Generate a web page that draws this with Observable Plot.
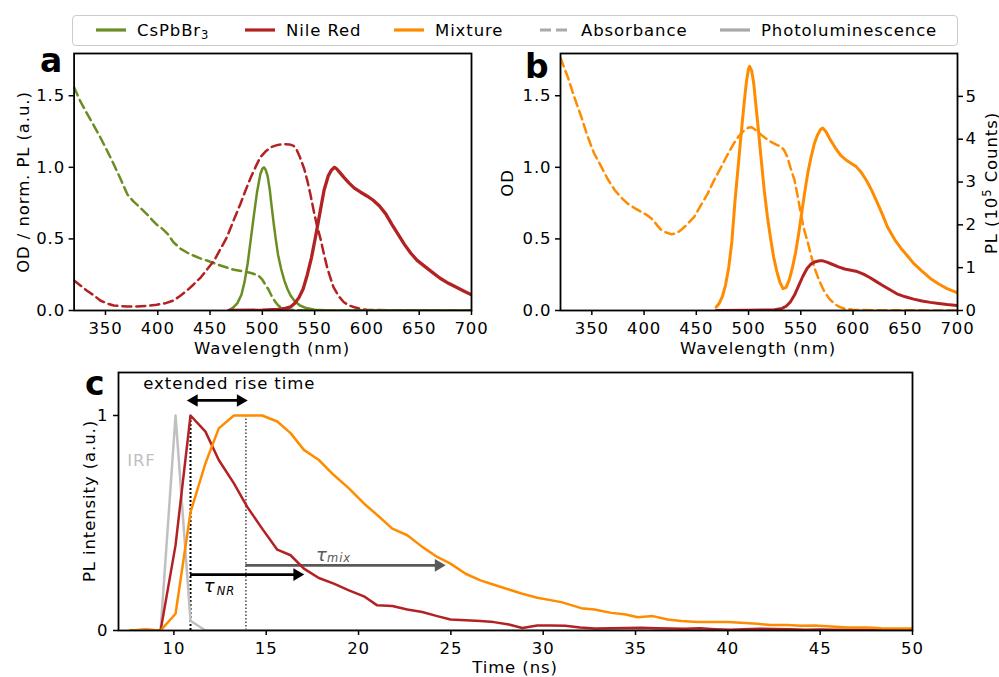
<!DOCTYPE html>
<html><head><meta charset="utf-8">
<script src="https://cdn.jsdelivr.net/npm/d3@7"></script>
<script src="https://cdn.jsdelivr.net/npm/@observablehq/plot@0.6"></script>
<style>
html,body{margin:0;padding:0;background:#fff;}
#fig{position:relative;width:999px;height:677px;overflow:hidden;font-family:"DejaVu Sans";font-size:16.5px;letter-spacing:0.9px;color:#000;background:#fff;}
.plot{position:absolute;}
.lbl{position:absolute;white-space:nowrap;line-height:1;transform:translate(-50%,-50%);}
.vlbl{position:absolute;white-space:nowrap;line-height:1;transform:translate(-50%,-50%) rotate(-90deg);}
.panel{position:absolute;font-weight:bold;font-size:33px;line-height:1;letter-spacing:0;}
#legend{position:absolute;left:72px;top:15px;width:884px;height:29px;border:1px solid #cccccc;border-radius:4px;background:#fff;}
.li{position:absolute;top:0;height:29px;line-height:29px;white-space:nowrap;}
.sw{position:absolute;top:0;}
</style></head>
<body><div id="fig"></div>
<script>
// ---------- colours ----------
const GREEN = "#6b8e23", RED = "#b22222", ORANGE = "#ff8c00", GREY = "#a9a9a9", IRFGREY = "#c0c0c0", DARKGREY = "#595959";

// ---------- panel a : CsPbBr3 & Nile Red ----------
const csAbsWl = [320,326,332,339,345,352,358,365,371,377,383,390,395,399,403,406,410,415,422,428,434,440,447,454,460,467,473,480,486,490,494,497,500,503,506,509,512,515,518,522,528,540,600,700];
const csAbsOD = [1.56,1.46,1.38,1.29,1.21,1.11,1.02,0.91,0.81,0.76,0.72,0.67,0.63,0.60,0.58,0.56,0.53,0.477,0.43,0.405,0.384,0.366,0.349,0.33,0.314,0.298,0.284,0.275,0.267,0.26,0.25,0.238,0.215,0.18,0.145,0.10,0.065,0.037,0.02,0.009,0.003,0.001,0,0];

const nrAbsWl = [320,326,332,339,345,352,358,365,371,378,384,391,399,407,415,421,428,434,441,447,454,460,466,472,479,484,489,494,498,503,508,514,520,526,530,533,536,540,543,546,549,552,556,559,562,565,568,573,578,583,588,595,600,620,650,700];
const nrAbsOD = [0.21,0.175,0.14,0.105,0.07,0.048,0.035,0.03,0.028,0.027,0.03,0.033,0.04,0.05,0.07,0.10,0.14,0.18,0.23,0.285,0.35,0.43,0.51,0.62,0.744,0.84,0.93,1.01,1.07,1.11,1.14,1.155,1.163,1.16,1.15,1.12,1.07,0.99,0.907,0.81,0.70,0.6,0.49,0.39,0.30,0.23,0.163,0.1,0.058,0.035,0.023,0.01,0.005,0.002,0.001,0];

const csPLWl = [468,472,476,480,483,486,489,492,495,498,500,501.5,503,505,507,509,511,513,515,518,521,524,527,531,536,542,550,560,580,700];
const csPL   = [0,0.02,0.05,0.11,0.2,0.33,0.5,0.67,0.83,0.95,0.99,1.0,0.985,0.94,0.85,0.72,0.6,0.49,0.39,0.29,0.21,0.15,0.105,0.065,0.035,0.017,0.006,0.002,0,0];

const nrPLWl = [468,500,515,522,527,531,535,539,543,547,551,555,559,563,566,569,571,574,578,583,588,594,600,606,612,618,624,630,636,642,648,655,662,670,678,686,693,700];
const nrPL   = [0,0.002,0.008,0.015,0.025,0.05,0.09,0.15,0.25,0.37,0.52,0.68,0.84,0.94,0.98,1.0,0.99,0.965,0.93,0.89,0.855,0.826,0.80,0.77,0.73,0.675,0.6,0.53,0.46,0.40,0.35,0.31,0.27,0.225,0.19,0.16,0.135,0.11];

// ---------- panel b : mixture ----------
const mixAbsWl = [320,327,333,340,346,352,359,365,372,378,384,391,397,402,407,412,416,421,426,431,435,441,448,454,461,467,474,480,486,491,496,500,503,507,512,517,521,526,531,534,537,540,544,547,550,553,557,560,563,567,572,577,582,587,592,600,620,700];
const mixAbsOD = [1.764,1.63,1.495,1.35,1.215,1.1,1.005,0.92,0.84,0.79,0.748,0.715,0.69,0.67,0.643,0.6,0.565,0.545,0.533,0.54,0.56,0.6,0.654,0.73,0.818,0.91,1.005,1.09,1.168,1.22,1.26,1.278,1.28,1.26,1.227,1.2,1.18,1.16,1.145,1.12,1.075,1.0,0.91,0.8,0.677,0.57,0.467,0.38,0.30,0.22,0.14,0.085,0.047,0.025,0.012,0.005,0.002,0];

// PL in units of 10^5 counts (right axis)
const mixPLWl = [469,472,475,478,481,484,487,490,493,496,498,500,501,503,505,507,509,512,515,518,521,524,527,530,533,536,539,542,545,548,551,554,557,560,563,566,569,571,574,578,583,588,593,598,603,608,613,618,623,628,633,640,646,652,658,666,674,682,690,700];
const mixPL   = [0.08,0.17,0.33,0.6,1.0,1.6,2.55,3.35,4.15,4.9,5.35,5.65,5.7,5.6,5.3,4.8,4.32,3.55,2.81,2.2,1.7,1.25,0.92,0.66,0.51,0.54,0.72,1.0,1.35,1.8,2.3,2.8,3.25,3.6,3.9,4.1,4.23,4.26,4.18,4.0,3.8,3.63,3.52,3.44,3.36,3.22,3.03,2.8,2.53,2.25,1.95,1.65,1.45,1.28,1.1,0.92,0.75,0.62,0.51,0.41];

const nrPLbWl = [469,500,525,532,536,540,544,548,552,556,560,564,568,571,575,580,586,592,598,604,610,616,622,628,635,642,650,658,666,674,682,690,700];
const nrPLb   = [0,0.005,0.02,0.05,0.1,0.2,0.36,0.58,0.8,0.98,1.09,1.14,1.16,1.16,1.13,1.08,1.02,0.97,0.94,0.91,0.85,0.77,0.68,0.59,0.49,0.39,0.32,0.265,0.22,0.19,0.165,0.14,0.117];

// ---------- panel c : time-resolved PL ----------
const irfT = [7.65,8.47,9.28,10.09,10.9,11.71,50];
const irfI = [0,0,0,1.0,0.045,0,0];

const nrT = [7.65,8.47,9.28,10.09,10.9,11.71,12.43,13.25,13.97,14.78,15.6,16.32,17.04,17.85,18.66,19.48,20.29,21.01,21.83,22.64,23.45,24.26,24.98,25.8,26.6,27.33,28.14,28.87,29.68,30.4,31.2,32.0,32.8,33.7,34.5,35.3,36.1,36.9,37.7,38.5,39.3,40.1,40.9,41.7,42.5,43.4,44.2,45.0,45.8,46.6,47.4,48.2,49.0,50.0];
const nrI = [0,0.003,0,0.397,1.0,0.925,0.793,0.684,0.575,0.474,0.376,0.35,0.288,0.244,0.218,0.187,0.159,0.117,0.114,0.098,0.086,0.067,0.051,0.048,0.044,0.039,0.028,0.012,0.023,0.023,0.022,0.014,0.009,0.010,0.012,0.013,0.011,0.009,0.008,0.010,0.006,0.003,0.006,0.008,0.007,0.006,0.004,0.005,0.004,0.003,0.003,0.002,0.002,0.002];

const mixT = [7.65,8.47,9.28,10.09,10.9,11.71,12.43,13.25,13.97,14.78,15.6,16.32,17.04,17.85,18.66,19.48,20.29,21.01,21.83,22.64,23.45,24.26,24.98,25.8,26.6,27.33,28.14,28.87,29.68,30.98,32.06,32.78,33.68,34.4,35.13,35.94,36.75,37.47,38.37,39.1,40.0,40.7,41.6,42.3,43.2,43.96,44.7,45.6,46.5,47.6,48.3,50.0];
const mixI = [0,0.003,0,0.078,0.55,0.778,0.94,1.0,1.0,1.0,0.972,0.918,0.84,0.793,0.723,0.661,0.591,0.537,0.474,0.443,0.389,0.342,0.311,0.264,0.233,0.213,0.191,0.171,0.152,0.132,0.104,0.098,0.082,0.076,0.062,0.067,0.051,0.044,0.039,0.04,0.039,0.036,0.031,0.026,0.026,0.022,0.023,0.019,0.014,0.014,0.011,0.009];

// annotations of panel c (data coordinates)
const dottedBlack = [{t: 10.9, y1: 0, y2: 1.0}];
const dottedGrey  = [{t: 13.9, y1: 0, y2: 1.0}];
const riseArrow   = [{x1: 10.7, x2: 14.0, y: 1.07}];
const tauNRArrow  = [{x1: 10.9, x2: 17.06, y: 0.26}];
const tauMixArrow = [{x1: 13.9, x2: 24.72, y: 0.303}];
const riseText    = [{t: 13.0, y: 1.147, text: "extended rise time"}];
const irfText     = [{t: 7.47, y: 0.79, text: "IRF"}];
const tauNRText   = [{t: 11.62, y: 0.205, sym: "τ", sub: "NR"}];
const tauMixText  = [{t: 17.7, y: 0.352, sym: "τ", sub: "mix"}];

// ---------- ticks ----------
const wlTicks = [350,400,450,500,550,600,650,700];
const odTicks = [0,0.5,1.0,1.5];
const plTicks = [0,1,2,3,4,5];
const tTicks = [10,15,20,25,30,35,40,45,50];
const iTicks = [0,1];

// legend
const legendItems = [
  {label: "CsPbBr<span style='font-size:0.7em;vertical-align:-0.3em'>3</span>", color: GREEN, dash: null},
  {label: "Nile Red", color: RED, dash: null},
  {label: "Mixture", color: ORANGE, dash: null},
  {label: "Absorbance", color: GREY, dash: "11,5"},
  {label: "Photoluminescence", color: GREY, dash: null}
];
const legendLineX = [23, 172, 321, 467, 647];

const PLK = 0.2991; // OD units per 10^5 counts (twin axis ratio)
const pts = (xs, ys, k = 1) => xs.map((x, i) => ({x, y: ys[i] * k}));

const baseStyle = {fontFamily: "DejaVu Sans", fontSize: "16.5px", letterSpacing: "0.9px", background: "transparent", overflow: "visible", color: "black"};
const fig = document.getElementById("fig");
function place(el, left, top) { el.classList.add("plot"); el.style.left = left + "px"; el.style.top = top + "px"; fig.appendChild(el); }

const DASH = "9,5";
const frameAB = () => [
  Plot.axisX({ticks: wlTicks, tickSize: 5, tickPadding: 6.5, strokeWidth: 1.5, label: null, tickFormat: d => String(d)}),
  Plot.axisY({ticks: odTicks, tickSize: 5, tickPadding: 4, strokeWidth: 1.5, label: null, tickFormat: d3.format(".1f")}),
  Plot.frame({stroke: "black", strokeWidth: 1.8})
];

// ---- panel a ----
const pa = Plot.plot({
  width: 480, height: 360, marginLeft: 73.6, marginRight: 9, marginTop: 53, marginBottom: 50,
  x: {domain: [320, 700]}, y: {domain: [0, 1.795]},
  style: baseStyle,
  marks: [
    Plot.line(pts(csAbsWl, csAbsOD), {x: "x", y: "y", stroke: GREEN, strokeWidth: 2.5, strokeDasharray: DASH, clip: true}),
    Plot.line(nrAbsWl.map((x,i)=>({x, y: nrAbsOD[i]})), {x: "x", y: "y", stroke: RED, strokeWidth: 2.5, strokeDasharray: DASH, clip: true}),
    Plot.line(pts(csPLWl, csPL), {x: "x", y: "y", stroke: GREEN, strokeWidth: 2.5, clip: true}),
    Plot.line(pts(nrPLWl, nrPL), {x: "x", y: "y", stroke: RED, strokeWidth: 3.3, clip: true}),
    ...frameAB()
  ]
});
place(pa, 0, 0);

// ---- panel b ----
const pb = Plot.plot({
  width: 519, height: 360, marginLeft: 80, marginRight: 42, marginTop: 53, marginBottom: 50,
  x: {domain: [320, 700]}, y: {domain: [0, 1.795]},
  style: baseStyle,
  marks: [
    Plot.line(pts(mixAbsWl, mixAbsOD), {x: "x", y: "y", stroke: ORANGE, strokeWidth: 2.5, strokeDasharray: DASH, clip: true}),
    Plot.line(pts(mixPLWl, mixPL, PLK), {x: "x", y: "y", stroke: ORANGE, strokeWidth: 3, clip: true}),
    Plot.line(pts(nrPLbWl, nrPLb, PLK), {x: "x", y: "y", stroke: RED, strokeWidth: 3, clip: true}),
    ...frameAB(),
    Plot.axisY(plTicks.map(v => v * PLK), {anchor: "right", tickSize: 5, tickPadding: 3, strokeWidth: 1.5, label: null, tickFormat: d => String(Math.round(d / PLK))})
  ]
});
place(pb, 480, 0);

// ---- panel c ----
const ARW = 2.7, HEAD_R = 6, HEAD_S = Math.sqrt(HEAD_R * HEAD_R * Math.PI) * 0.6824;
const pc = Plot.plot({
  width: 999, height: 317, marginLeft: 118, marginRight: 87, marginTop: 12, marginBottom: 47,
  x: {domain: [7, 50]}, y: {domain: [0, 1.2]},
  style: baseStyle,
  marks: [
    // annotations
    Plot.ruleX(dottedBlack, {x: "t", y1: "y1", y2: "y2", stroke: "black", strokeWidth: 2, strokeDasharray: "2,2"}),
    Plot.ruleX(dottedGrey, {x: "t", y1: "y1", y2: "y2", stroke: "#444", strokeWidth: 1.5, strokeDasharray: "1.5,2"}),
    Plot.ruleY(riseArrow, {y: "y", x1: "x1", x2: "x2", stroke: "black", strokeWidth: ARW, insetLeft: 6, insetRight: 6}),
    Plot.dot(riseArrow, {x: "x2", y: "y", symbol: "triangle2", r: HEAD_R, fill: "black", stroke: "none", rotate: 90, dx: -HEAD_S}),
    Plot.dot(riseArrow, {x: "x1", y: "y", symbol: "triangle2", r: HEAD_R, fill: "black", stroke: "none", rotate: -90, dx: HEAD_S}),
    Plot.ruleY(tauNRArrow, {y: "y", x1: "x1", x2: "x2", stroke: "black", strokeWidth: ARW, insetRight: 6}),
    Plot.dot(tauNRArrow, {x: "x2", y: "y", symbol: "triangle2", r: HEAD_R, fill: "black", stroke: "none", rotate: 90, dx: -HEAD_S}),
    Plot.ruleY(tauMixArrow, {y: "y", x1: "x1", x2: "x2", stroke: DARKGREY, strokeWidth: ARW, insetRight: 6}),
    Plot.dot(tauMixArrow, {x: "x2", y: "y", symbol: "triangle2", r: HEAD_R, fill: DARKGREY, stroke: "none", rotate: 90, dx: -HEAD_S}),
    Plot.text(riseText, {x: "t", y: "y", text: "text", fill: "black"}),
    Plot.text(irfText, {x: "t", y: "y", text: "text", fill: IRFGREY, textAnchor: "start"}),
    Plot.text(tauNRText, {x: "t", y: "y", text: "sym", fill: "black", textAnchor: "start", fontStyle: "italic", fontSize: 18}),
    Plot.text(tauNRText, {x: "t", y: "y", text: "sub", fill: "black", textAnchor: "start", fontStyle: "italic", fontSize: 11.5, dx: 13, dy: 5}),
    Plot.text(tauMixText, {x: "t", y: "y", text: "sym", fill: DARKGREY, textAnchor: "start", fontStyle: "italic", fontSize: 18}),
    Plot.text(tauMixText, {x: "t", y: "y", text: "sub", fill: DARKGREY, textAnchor: "start", fontStyle: "italic", fontSize: 11.5, dx: 11, dy: 3}),
    // data
    Plot.line(pts(irfT, irfI), {x: "x", y: "y", stroke: IRFGREY, strokeWidth: 2.5, clip: true}),
    Plot.line(pts(nrT, nrI), {x: "x", y: "y", stroke: RED, strokeWidth: 2.5, clip: true}),
    Plot.line(pts(mixT, mixI), {x: "x", y: "y", stroke: ORANGE, strokeWidth: 2.5, clip: true}),
    Plot.axisX({ticks: tTicks, tickSize: 5, tickPadding: 6.5, strokeWidth: 1.5, label: null, tickFormat: d => String(d)}),
    Plot.axisY({ticks: iTicks, tickSize: 5, tickPadding: 5, strokeWidth: 1.5, label: null, tickFormat: d => String(d)}),
    Plot.frame({stroke: "black", strokeWidth: 1.8})
  ]
});
place(pc, 0, 360);

// ---------- HTML text: axis labels, panel letters, legend ----------
function addDiv(cls, html, left, top) {
  const d = document.createElement("div");
  d.className = cls; d.innerHTML = html;
  d.style.left = left + "px"; d.style.top = top + "px";
  fig.appendChild(d); return d;
}
addDiv("lbl", "Wavelength (nm)", 272, 349);
addDiv("lbl", "Wavelength (nm)", 758, 349);
addDiv("lbl", "Time (ns)", 515, 668);
addDiv("vlbl", "OD / norm. PL (a.u.)", 23.5, 182);
addDiv("vlbl", "OD", 507.5, 182.5);
addDiv("vlbl", "PL (10<span style='font-size:0.7em;vertical-align:0.55em'>5</span> Counts)", 990.5, 182.5);
addDiv("vlbl", "PL intensity (a.u.)", 90, 501);
addDiv("panel", "a", 40, 44.4);
addDiv("panel", "b", 525, 50.4);
addDiv("panel", "c", 85, 367);

const leg = document.createElement("div");
leg.id = "legend";
fig.appendChild(leg);
legendItems.forEach((it, i) => {
  const x = legendLineX[i];
  const sw = document.createElementNS("http://www.w3.org/2000/svg", "svg");
  sw.setAttribute("width", 30); sw.setAttribute("height", 29);
  sw.setAttribute("class", "sw");
  sw.style.left = x + "px";
  const ln = document.createElementNS("http://www.w3.org/2000/svg", "line");
  ln.setAttribute("x1", 0); ln.setAttribute("x2", 30); ln.setAttribute("y1", 14); ln.setAttribute("y2", 14);
  ln.setAttribute("stroke", it.color); ln.setAttribute("stroke-width", 3.2);
  if (it.dash) ln.setAttribute("stroke-dasharray", it.dash);
  sw.appendChild(ln);
  leg.appendChild(sw);
  const t = document.createElement("div");
  t.className = "li"; t.innerHTML = it.label; t.style.left = (x + 41) + "px";
  leg.appendChild(t);
});
</script>
</body></html>
